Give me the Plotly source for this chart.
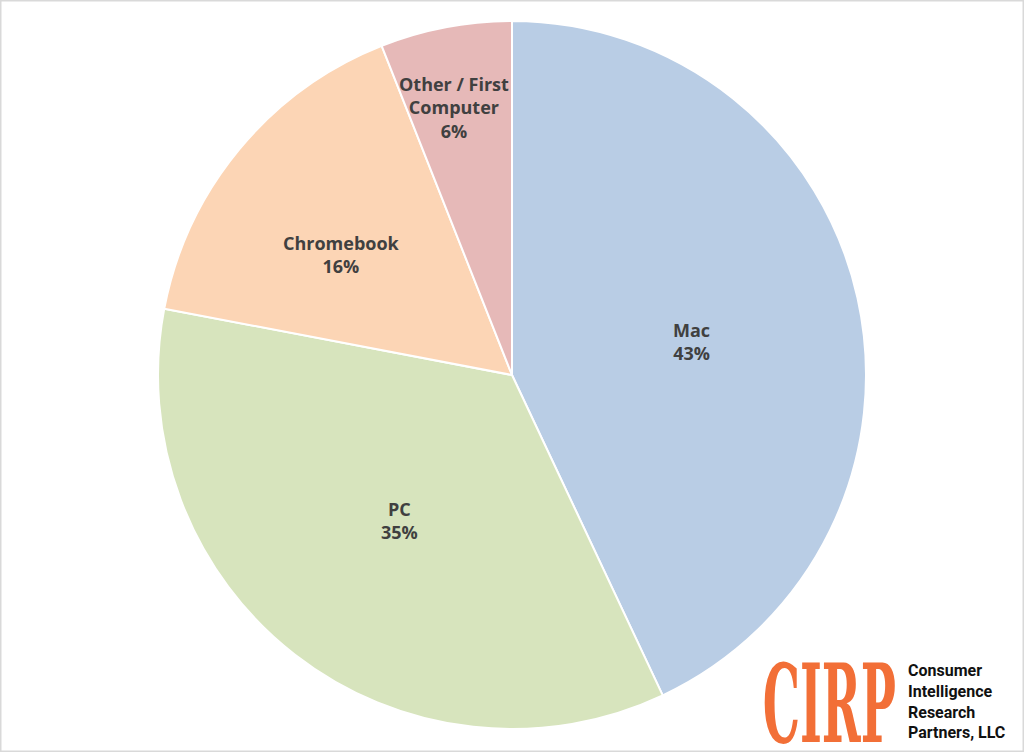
import math
import plotly.graph_objects as go

labels = ["Mac", "PC", "Chromebook", "Other / First<br>Computer"]
values = [43, 35, 16, 6]
colors = ["#B9CDE5", "#D7E4BD", "#FCD5B5", "#E6B9B8"]
# data-label placement (style): radial fraction of the radius and pixel nudges
label_r = [0.52, 0.52, 0.59, 0.77]
label_dx = [0, 0, -10, -7]
label_dy = [-7, 0, -13, 0]

W, H = 1024, 752
cx, cy, R = 512, 375, 354

fig = go.Figure()
fig.add_trace(go.Pie(
    labels=labels, values=values, sort=False, direction="clockwise", rotation=0,
    marker=dict(colors=colors, line=dict(color="white", width=2)),
    textinfo="none", hoverinfo="label+percent", showlegend=False,
    domain=dict(x=[(cx - R) / W, (cx + R) / W], y=[(H - cy - R) / H, (H - cy + R) / H]),
))

total = sum(values)
cum = 0
for lab, v, rf, dx, dy in zip(labels, values, label_r, label_dx, label_dy):
    mid = (cum + v / 2) / total * 2 * math.pi
    cum += v
    px = cx + rf * R * math.sin(mid)
    py = cy - rf * R * math.cos(mid)
    fig.add_annotation(x=px / W, y=(H - py) / H, xref="paper", yref="paper",
                       xanchor="center", yanchor="middle", showarrow=False,
                       xshift=dx, yshift=dy,
                       text=f"<b>{lab}<br>{round(v / total * 100)}%</b>",
                       font=dict(family="Open Sans", size=18, color="#404040"))

fig.add_annotation(x=898 / W, y=(H - 703) / H, xref="paper", yref="paper", xanchor="right", yanchor="middle",
                   text="<b>CIRP</b>", showarrow=False,
                   font=dict(family="DejaVu Serif", size=72, color="#F26F37"))
fig.add_annotation(x=906 / W, y=(H - 701) / H, xref="paper", yref="paper", xanchor="left", yanchor="middle",
                   text="<b>Consumer<br>Intelligence<br>Research<br>Partners, LLC</b>", showarrow=False, align="left",
                   font=dict(family="Roboto", size=16, color="#111111"))

fig.add_shape(type="rect", xref="paper", yref="paper", x0=0, y0=0, x1=1, y1=1,
              line=dict(color="#D9D9D9", width=3))

fig.update_layout(width=W, height=H, margin=dict(l=0, r=0, t=0, b=0),
                  paper_bgcolor="white", plot_bgcolor="white")

post = """
document.body.style.margin = '0';
document.querySelectorAll('text.annotation-text').forEach(function (t) {
  if (t.textContent.trim() === 'CIRP') {
    t.style.transformBox = 'fill-box';
    t.style.transformOrigin = 'right center';
    t.style.transform = 'scale(0.65, 1.5)';
  }
});
"""
fig.write_html("out.html", post_script=post, config={"displayModeBar": False})
